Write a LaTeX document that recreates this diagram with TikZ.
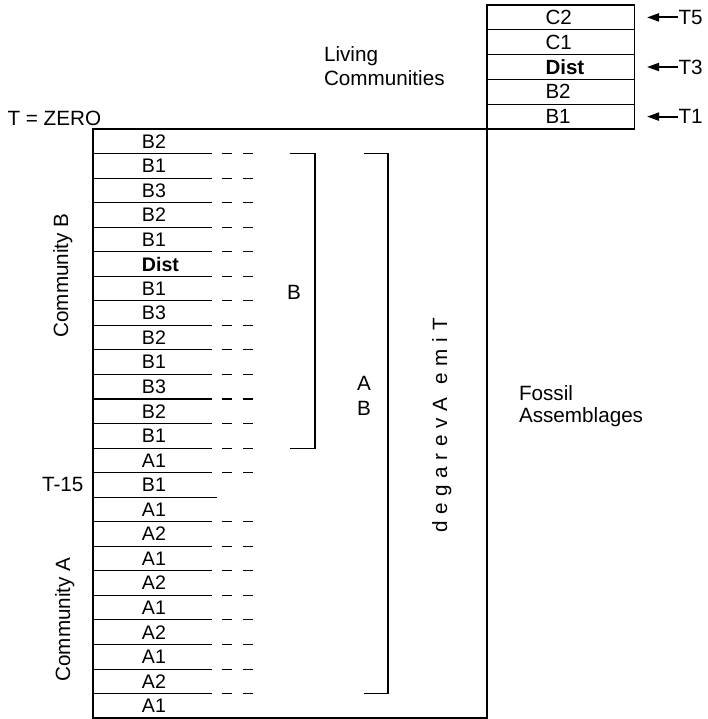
\documentclass[tikz,border=0pt]{standalone}
\usepackage{fontspec}
\setmainfont{Liberation Sans}
\usetikzlibrary{arrows.meta, positioning}

\begin{document}
\begin{tikzpicture}[
  x=0.75pt, y=-0.75pt,
  line width=0.8pt,
  lbl/.style={font=\fontsize{15.5}{18}\selectfont, inner sep=0},
  cell/.style={font=\fontsize{14.7}{17}\selectfont, text width=52.5pt,
               minimum height=18.41pt, align=left, inner sep=0, outer sep=0},
  lcell/.style={cell, font=\fontsize{15.4}{18}\selectfont,
                text width=66.4pt, minimum height=18.6pt},
  avg/.style={lbl, rotate=90, inner xsep=2.1pt, anchor=base east},
  trail/.style={dash pattern=on 7.5pt off 8.25pt},
  arr/.style={-{Triangle[length=9pt, width=6pt]}, line width=1.5pt,
              shorten >=9.75pt},
]
\useasboundingbox (0,0) rectangle (708,719);

% fossil column
\node[draw, minimum width=295.5pt, minimum height=441.75pt, inner sep=0,
      outer sep=0, anchor=north west] (fossil) at (93,129) {};

\node[cell, anchor=north west] (r1) at (142,129) {B2};
\node[cell, below=0pt of r1] (r2) {B1};
\node[cell, below=0pt of r2] (r3) {B3};
\node[cell, below=0pt of r3] (r4) {B2};
\node[cell, below=0pt of r4] (r5) {B1};
\node[cell, below=0pt of r5] (r6) {\textbf{Dist}};
\node[cell, below=0pt of r6] (r7) {B1};
\node[cell, below=0pt of r7] (r8) {B3};
\node[cell, below=0pt of r8] (r9) {B2};
\node[cell, below=0pt of r9] (r10) {B1};
\node[cell, below=0pt of r10] (r11) {B3};
\node[cell, below=0pt of r11] (r12) {B2};
\node[cell, below=0pt of r12] (r13) {B1};
\node[cell, below=0pt of r13] (r14) {A1};
\node[cell, below=0pt of r14] (r15) {B1};
\node[cell, below=0pt of r15] (r16) {A1};
\node[cell, below=0pt of r16] (r17) {A2};
\node[cell, below=0pt of r17] (r18) {A1};
\node[cell, below=0pt of r18] (r19) {A2};
\node[cell, below=0pt of r19] (r20) {A1};
\node[cell, below=0pt of r20] (r21) {A2};
\node[cell, below=0pt of r21] (r22) {A1};
\node[cell, below=0pt of r22] (r23) {A2};
\node[cell, below=0pt of r23] (r24) {A1};

\foreach \k in {1,2,3,4,5,6,7,8,9,10,11,12,13,14,16,17,18,19,20,21,22,23}
  \draw (r\k.south -| fossil.west) -- (r\k.south east) ++(10,0) edge[trail] +(31,0);
\draw (r15.south -| fossil.west) -- ([xshift=3.75pt]r15.south east);

% brackets
\draw ([xshift=58.5pt]r1.south east) -| ([xshift=77.25pt]r13.south east) -- ++(-25,0);
\draw ([xshift=114pt]r1.south east) -| ([xshift=132pt]r23.south east) -- ++(-24,0);
\node[lbl] (bonly) at (294,292.5) {B};
\node[lbl, align=center, font=\fontsize{15.5}{18.75}\selectfont] (aandb) at (364,395.5) {A\\B};

% living communities
\node[lcell, anchor=north west] (lc2) at (545.5,5) {C2};
\node[lcell, below=0pt of lc2] (lc1) {C1};
\node[lcell, below=0pt of lc1] (ldist) {\textbf{Dist}};
\node[lcell, below=0pt of ldist] (lb2) {B2};
\node[lcell, below=0pt of lb2] (lb1) {B1};
\draw (fossil.east |- lc2.north) rectangle (lb1.south east);
\foreach \c in {lc2,lc1,ldist,lb2}
  \draw (\c.south -| fossil.east) -- (\c.south east);

\node[lbl, right=33pt of lc2] (t5) {T5};
\node[lbl, right=33pt of ldist] (t3) {T3};
\node[lbl, right=33pt of lb1] (t1) {T1};
\draw[arr] (t5) -- (lc2);
\draw[arr] (t3) -- (ldist);
\draw[arr] (t1) -- (lb1);

% labels
\node[lbl, anchor=base west] (tzero) at (7,125) {T = ZERO};
\node[lbl, left=43.5pt of r15] (t15) {T-15};
\node[lbl, rotate=90, anchor=base] (commb) at (68,275.5) {Community B};
\node[lbl, rotate=90, anchor=base] (comma) at (70,619.5) {Community A};
\node[lbl, align=left, font=\fontsize{15.5}{18}\selectfont, anchor=west]
  (living) at (323.5,66.4) {Living\\Communities};
\node[lbl, align=left, font=\fontsize{15.5}{16.5}\selectfont, anchor=west]
  (fossils) at (518.5,405.7) {Fossil\\Assemblages};

% time averaged, letters stacked downwards
\node[avg] (ta1) at (447,315) {T};
\foreach \ch [count=\i from 2, remember=\i as \j (initially 1)] in {i,m,e,{\ },A,v,e,r,a,g,e,d}
  \node[avg] (ta\i) at (ta\j.base west) {\ch};

\end{tikzpicture}
\end{document}
